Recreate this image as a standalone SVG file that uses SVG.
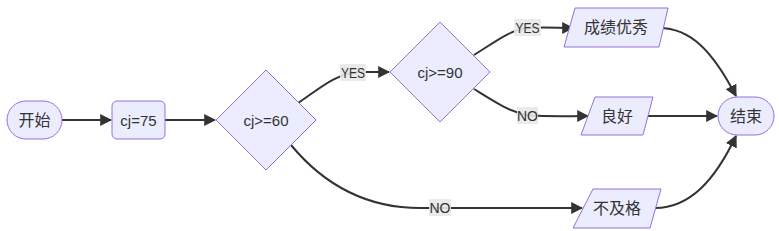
<svg xmlns="http://www.w3.org/2000/svg" width="779" height="231" viewBox="0 0 779 231">
<defs>
<marker id="arrow" viewBox="0 0 10 10" refX="9" refY="5" markerUnits="userSpaceOnUse" markerWidth="12" markerHeight="12" orient="auto">
<path d="M0,0 L10,5 L0,10 z" fill="#333333"/>
</marker>
</defs>
<style>
.node{fill:#ECECFF;stroke:#9370DB;stroke-width:1px}
.t{font-family:"Liberation Sans","Noto Sans CJK SC",sans-serif;font-size:16px;fill:#333333;text-anchor:middle;dominant-baseline:central}
.lt{font-size:15px}
.edge{fill:none;stroke:#333333;stroke-width:2px;marker-end:url(#arrow)}
.lbg{fill:#E8E8E8;fill-opacity:0.9}
.lbl{font-family:"Liberation Sans",sans-serif;font-size:14px;fill:#333333;text-anchor:middle;dominant-baseline:central}
</style>
<rect width="779" height="231" fill="#ffffff"/>
<g id="edges">
<path class="edge" d="M62,120 L111,120"/>
<path class="edge" d="M165,120 L215,120"/>
<path class="edge" d="M298,103 C318,90 335,73 360,72 L389,72"/>
<path class="edge" d="M474,55 C495,42 510,30 527,28 C545,27 558,28 573,28"/>
<path class="edge" d="M474,89 C495,102 510,112 527,115 C550,117 565,116 588,116"/>
<path class="edge" d="M291,145 C320,180 360,208 420,208 L582,208"/>
<path class="edge" d="M659,28 C690,28 712,50 736,96"/>
<path class="edge" d="M648,116 L717,116"/>
<path class="edge" d="M655,208 C690,208 715,180 736,136"/>
</g>
<g id="edge-labels">
<rect class="lbg" x="340" y="64" width="26" height="17"/>
<text class="lbl" x="353" y="72.5" textLength="24" lengthAdjust="spacingAndGlyphs">YES</text>
<rect class="lbg" x="514" y="19" width="27" height="17"/>
<text class="lbl" x="527.5" y="27.5" textLength="24" lengthAdjust="spacingAndGlyphs">YES</text>
<rect class="lbg" x="517" y="107" width="21" height="17"/>
<text class="lbl" x="527.5" y="115.5">NO</text>
<rect class="lbg" x="429" y="199" width="22" height="17"/>
<text class="lbl" x="440" y="207.5">NO</text>
</g>
<g id="start">
<rect class="node" x="7" y="101" width="55" height="38" rx="19" ry="19"/>
<text class="t" x="34.5" y="120">开始</text>
</g>
<g id="cj75">
<rect class="node" x="112" y="101" width="53" height="38" rx="5" ry="5"/>
<text class="t lt" x="138.5" y="120">cj=75</text>
</g>
<g id="cj60">
<polygon class="node" points="266,70 316,120 266,170 216,120"/>
<text class="t lt" x="266" y="120">cj&gt;=60</text>
</g>
<g id="cj90">
<polygon class="node" points="440,22 490,72 440,122 390,72"/>
<text class="t lt" x="440" y="72">cj&gt;=90</text>
</g>
<g id="excellent">
<polygon class="node" points="575,8 668,8 659,47 564,47"/>
<text class="t" x="616" y="27.5">成绩优秀</text>
</g>
<g id="good">
<polygon class="node" points="595,97 653,97 643,135 581,135"/>
<text class="t" x="617" y="116">良好</text>
</g>
<g id="fail">
<polygon class="node" points="593,189 661,189 650,228 573,228"/>
<text class="t" x="617" y="208.5">不及格</text>
</g>
<g id="end">
<rect class="node" x="718" y="97" width="56" height="38" rx="19" ry="19"/>
<text class="t" x="746" y="116">结束</text>
</g>
</svg>
